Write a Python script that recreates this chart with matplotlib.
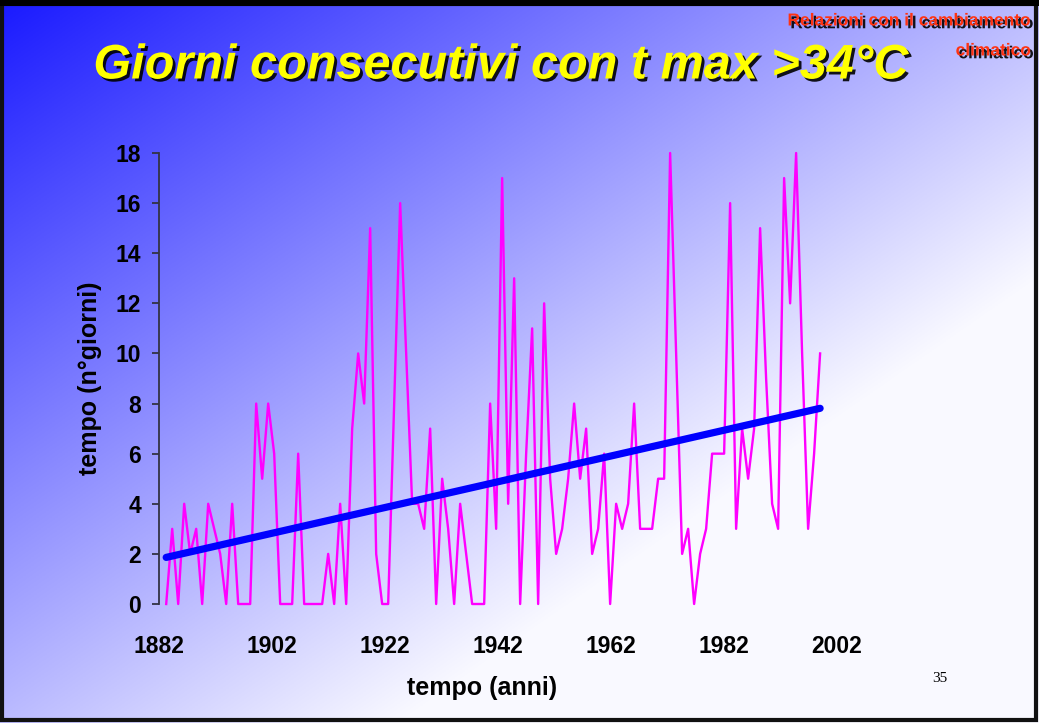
import numpy as np
import matplotlib
matplotlib.use("Agg")
from matplotlib import pyplot as plt
from matplotlib import patheffects as pe
from matplotlib.patches import Rectangle

# consecutive days with t max > 34 C, one value per year from 1882
days = [0, 3, 0, 4, 2, 3, 0, 4, 3, 2,
        0, 4, 0, 0, 0, 8, 5, 8, 6, 0,
        0, 0, 6, 0, 0, 0, 0, 2, 0, 4,
        0, 7, 10, 8, 15, 2, 0, 0, 8, 16,
        10, 4, 4, 3, 7, 0, 5, 3, 0, 4,
        2, 0, 0, 0, 8, 3, 17, 4, 13, 0,
        6, 11, 0, 12, 5, 2, 3, 5, 8, 5,
        7, 2, 3, 6, 0, 4, 3, 4, 8, 3,
        3, 3, 5, 5, 18, 10, 2, 3, 0, 2,
        3, 6, 6, 6, 16, 3, 7, 5, 7, 15,
        9, 4, 3, 17, 12, 18, 10, 3, 6, 10]
trend_ends = [1.86, 7.81]   # linear trend at first and last year
year_labels = ['1882', '1902', '1922', '1942', '1962', '1982', '2002']
y_ticks = [0, 2, 4, 6, 8, 10, 12, 14, 16, 18]

W, H = 1039, 723
fig = plt.figure(figsize=(W / 100, H / 100), dpi=100)

# slide background: diagonal blue -> white gradient
bg = fig.add_axes([0, 0, 1, 1], zorder=-10)
gx, gy = np.meshgrid(np.linspace(0, 1, 400), np.linspace(0, 1, 300))
t = np.clip(0.72 * gx + 0.72 * gy, 0, 1)
c0 = np.array([0.10, 0.10, 1.0])
c1 = np.array([0.98, 0.98, 1.0])
grad = c0[None, None, :] + t[..., None] * (c1 - c0)[None, None, :]
bg.imshow(grad, aspect='auto', extent=[0, 1, 0, 1], origin='upper')
bg.set_axis_off()

# frame of the slide
fig.patches.append(Rectangle((0.0015, 0.004), 0.996, 0.99, transform=fig.transFigure,
                             fill=False, edgecolor='#111111', lw=3, zorder=5))
fig.patches.append(Rectangle((0.0, 0.992), 1.0, 0.008, transform=fig.transFigure,
                             facecolor='black', edgecolor='none', zorder=5))

# plot area
x = np.arange(len(days))
xmax = 113.5
px = 6.036
ax = fig.add_axes([159 / W, 1 - 604 / H, (xmax + 0.5) * px / W, (604 - 153) / H])
ax.set_facecolor('none')
ax.plot(x, days, color='#ff00ff', lw=1.7, clip_on=False, zorder=3)
ax.plot([x[0], x[-1]], trend_ends, color='#0000ff', lw=5.2,
        solid_capstyle='round', zorder=4)

ax.set_xlim(-0.5, xmax)
ax.set_ylim(0, 18)
ax.set_yticks(y_ticks)
ax.set_xticks(np.linspace(-1.2, 111.8, len(year_labels)))
ax.set_xticklabels(year_labels)
for s in ['top', 'right', 'bottom']:
    ax.spines[s].set_visible(False)
ax.spines['left'].set_color('#333344')
ax.spines['left'].set_linewidth(1.3)
ax.tick_params(axis='y', direction='out', length=5, width=1.3, color='#333344',
               pad=8, labelsize=16.5)
ax.tick_params(axis='x', length=0, pad=22, labelsize=16.5)
for lab in ax.get_xticklabels() + ax.get_yticklabels():
    lab.set_fontweight('bold')
    lab.set_family('Liberation Sans')

fig.text(90 / W, 1 - 378 / H, 'tempo (n°giorni)', rotation=90, ha='center', va='center',
         fontsize=18, fontweight='bold', family='Liberation Sans')
fig.text(482 / W, 1 - 688 / H, 'tempo (anni)', ha='center', va='center',
         fontsize=18, fontweight='bold', family='Liberation Sans')

# titles
shadow = [pe.withSimplePatchShadow(offset=(2, -2), shadow_rgbFace='black', alpha=0.9)]
fig.text(501 / W, 1 - 66 / H, 'Giorni consecutivi con t max >34°C', ha='center', va='center',
         fontsize=35, fontweight='bold', style='italic', color='#ffff00',
         family='Liberation Sans', path_effects=shadow)
fig.text(1031 / W, 1 - 21 / H, 'Relazioni con il cambiamento', ha='right', va='center',
         fontsize=12.5, fontweight='bold', color='#ff3311', family='Liberation Sans',
         path_effects=shadow)
fig.text(1031 / W, 1 - 51 / H, 'climatico', ha='right', va='center',
         fontsize=12.5, fontweight='bold', color='#ff3311', family='Liberation Sans',
         path_effects=shadow)

fig.text(940 / W, 1 - 678 / H, '35', ha='center', va='center', fontsize=11,
         family='Liberation Serif')

fig.savefig('out.png', dpi=100)
